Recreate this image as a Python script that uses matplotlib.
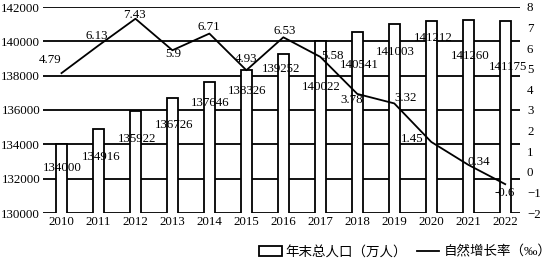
import matplotlib
matplotlib.use("Agg")
import matplotlib.pyplot as plt
from matplotlib.patches import Patch
from matplotlib.lines import Line2D

plt.rcParams["font.family"] = ["Liberation Serif", "Noto Sans CJK SC"]

# 数据
years = ["2010", "2011", "2012", "2013", "2014", "2015", "2016",
         "2017", "2018", "2019", "2020", "2021", "2022"]
population = [134000, 134916, 135922, 136726, 137646, 138326, 139252,
              140022, 140541, 141003, 141212, 141260, 141175]
growth_rate = [4.79, 6.13, 7.43, 5.9, 6.71, 4.93, 6.53, 5.58, 3.78, 3.32, 1.45, 0.34, -0.6]
growth_labels = ["4.79", "6.13", "7.43", "5.9", "6.71", "4.93", "6.53",
                 "5.58", "3.78", "3.32", "1.45", "0.34", "-0.6"]

# 标签偏移（像素）
bar_off = [(1, -24), (3, -28), (2, -28), (2, -27), (1, -21), (1, -21), (-2, -15),
           (1, -46), (2, -33), (1, -28), (2, -17), (2, -36), (3, -46)]
line_off = [(-11, 13), (-2, 10), (-1, 4), (1, -4), (-1, 7), (0, 11), (1, 6),
            (12, 1), (-6, -6), (11, 5), (-19, 3), (11, 3), (-1, -9)]

FS = 9.3

fig = plt.figure(figsize=(5.5, 2.6), dpi=100)
ax = fig.add_axes([43 / 550, 1 - 213 / 260, 477 / 550, 206 / 260])
x = list(range(len(years)))

ax.set_ylim(130000, 142000)
ax.set_yticks(range(130000, 142001, 2000))
for yv in range(130000, 142001, 2000):
    ax.axhline(yv, color="black", lw=1.3, zorder=1)
ax.bar(x, population, width=0.3, bottom=0, color="white", edgecolor="black",
       linewidth=1.3, zorder=2)
ax.set_xlim(-0.5, 12.4)
ax.set_xticks(x)
ax.set_xticklabels(years)
ax.tick_params(axis="y", length=0, labelsize=FS, pad=2)
ax.tick_params(axis="x", length=0, labelsize=FS, pad=2)
for s in ax.spines.values():
    s.set_visible(False)

for xi, v, (dx, dy) in zip(x, population, bar_off):
    ax.annotate(str(v), (xi, v), xytext=(dx, dy), textcoords="offset pixels",
                ha="center", va="center", fontsize=FS, zorder=5)

ax2 = ax.twinx()
ax2.set_ylim(-2, 8)
ax2.set_yticks(range(-2, 9))
ax2.plot(x, growth_rate, color="black", lw=1.3, zorder=3)
ax2.tick_params(length=0, labelsize=FS, pad=5)
for s in ax2.spines.values():
    s.set_visible(False)
for xi, v, t, (dx, dy) in zip(x, growth_rate, growth_labels, line_off):
    ax2.annotate(t, (xi, v), xytext=(dx, dy), textcoords="offset pixels",
                 ha="center", va="center", fontsize=FS)

handles = [Patch(facecolor="white", edgecolor="black", linewidth=1.3),
           Line2D([], [], color="black", lw=1.3)]
fig.legend(handles, ["年末总人口（万人）", "自然增长率（‰）"], ncol=2,
           loc="center", bbox_to_anchor=(405 / 550, 1 - 252 / 260), frameon=False,
           fontsize=9.7, handlelength=1.7, handletextpad=0.3, columnspacing=0.7,
           borderpad=0.1)

fig.savefig("out.png", dpi=100)
